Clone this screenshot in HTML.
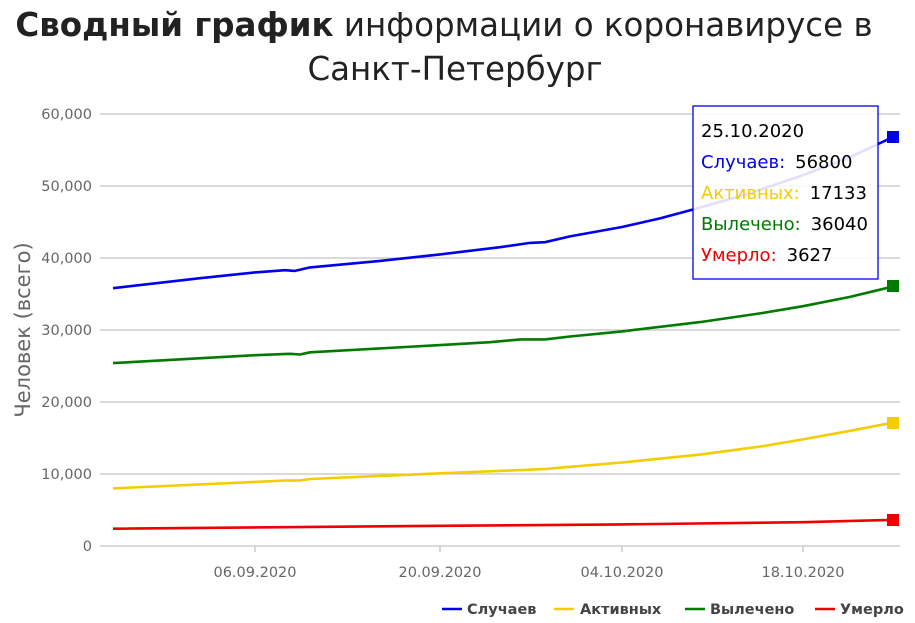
<!DOCTYPE html>
<html><head><meta charset="utf-8"><style>
body{margin:0;background:#fff;width:915px;height:623px;overflow:hidden}
svg{display:block}
</style></head><body>
<svg width="915" height="623" xmlns="http://www.w3.org/2000/svg" font-family="'DejaVu Sans','Liberation Sans',sans-serif">
<text x="444" y="36" text-anchor="middle" font-size="32.5" fill="#222"><tspan font-weight="bold">Сводный график</tspan> информации о коронавирусе в</text>
<text x="455" y="80" text-anchor="middle" font-size="32.5" fill="#222">Санкт-Петербург</text>
<g stroke="#c4c4c4" stroke-width="1.3">
<line x1="100" y1="114" x2="900" y2="114"/><line x1="100" y1="186" x2="900" y2="186"/>
<line x1="100" y1="258" x2="900" y2="258"/><line x1="100" y1="330" x2="900" y2="330"/>
<line x1="100" y1="402" x2="900" y2="402"/><line x1="100" y1="474" x2="900" y2="474"/>
<line x1="100" y1="546" x2="900" y2="546"/>
<line x1="255" y1="546" x2="255" y2="552"/><line x1="440" y1="546" x2="440" y2="552"/>
<line x1="622" y1="546" x2="622" y2="552"/><line x1="803" y1="546" x2="803" y2="552"/>
</g>
<g font-size="14.5" fill="#666" text-anchor="end">
<text x="92" y="119">60,000</text><text x="92" y="191">50,000</text><text x="92" y="263">40,000</text>
<text x="92" y="335">30,000</text><text x="92" y="407">20,000</text><text x="92" y="479">10,000</text>
<text x="92" y="551">0</text>
</g>
<g font-size="14.5" fill="#666" text-anchor="middle">
<text x="255" y="577">06.09.2020</text><text x="440" y="577">20.09.2020</text>
<text x="622" y="577">04.10.2020</text><text x="803" y="577">18.10.2020</text>
</g>
<text transform="translate(30,330) rotate(-90)" text-anchor="middle" font-size="21" fill="#666">Человек (всего)</text>
<g fill="none" stroke-width="2.6" stroke-linejoin="round">
<polyline stroke="#0000ee" points="113,288.2 200,278.2 255,272.4 285,270.2 295,270.9 310,267.4 380,260.9 440,254.4 500,247.2 530,242.9 545,242.2 570,236.4 622,227.0 660,218.4 700,207.6 750,193.2 803,175.2 850,157.2 893,137.0"/>
<polyline stroke="#007a00" points="113,363.1 255,355.2 290,353.8 300,354.5 310,352.3 440,345.1 490,342.2 520,339.4 545,339.4 570,336.5 622,331.4 700,322.1 760,313.4 803,306.2 850,296.9 893,286.5"/>
<polyline stroke="#f5cc00" points="113,488.4 255,481.9 285,480.5 300,480.5 310,479.0 440,473.3 530,469.7 545,469.0 570,466.8 622,462.5 700,454.6 760,446.6 803,439.4 850,430.8 893,422.6"/>
<polyline stroke="#ee0000" points="113,528.7 440,525.8 622,524.4 803,522.2 893,519.9"/>
</g>
<rect x="887" y="131" width="12" height="12" fill="#0000ee"/>
<rect x="887" y="280" width="12" height="12" fill="#007a00"/>
<rect x="887" y="417" width="12" height="12" fill="#f5cc00"/>
<rect x="887" y="514" width="12" height="12" fill="#ee0000"/>
<rect x="693" y="106" width="185" height="173" fill="rgba(255,255,255,0.88)" stroke="#0000ee" stroke-width="1.3"/>
<g font-size="18">
<text x="701" y="137" fill="#000">25.10.2020</text>
<text x="701" y="168"><tspan fill="#0000ee">Случаев:</tspan><tspan fill="#000" dx="10">56800</tspan></text>
<text x="701" y="199"><tspan fill="#f5cc00">Активных:</tspan><tspan fill="#000" dx="10">17133</tspan></text>
<text x="701" y="230"><tspan fill="#007a00">Вылечено:</tspan><tspan fill="#000" dx="10">36040</tspan></text>
<text x="701" y="261"><tspan fill="#ee0000">Умерло:</tspan><tspan fill="#000" dx="10">3627</tspan></text>
</g>
<g stroke-width="2.6">
<line x1="442" y1="609" x2="462" y2="609" stroke="#0000ee"/>
<line x1="554" y1="609" x2="574" y2="609" stroke="#f5cc00"/>
<line x1="685" y1="609" x2="705" y2="609" stroke="#007a00"/>
<line x1="815" y1="609" x2="835" y2="609" stroke="#ee0000"/>
</g>
<g font-size="14.5" font-weight="bold" fill="#444">
<text x="467" y="614">Случаев</text><text x="580" y="614">Активных</text>
<text x="710" y="614">Вылечено</text><text x="840" y="614">Умерло</text>
</g>
</svg>
</body></html>
